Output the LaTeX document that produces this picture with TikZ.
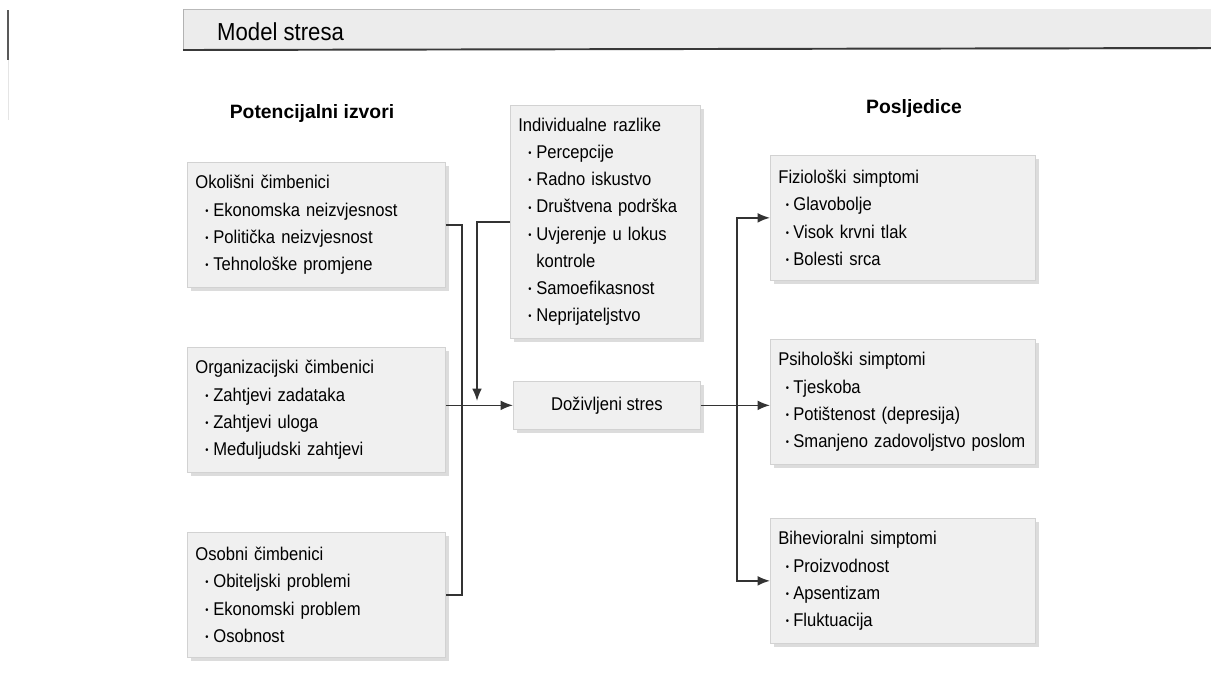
\documentclass[tikz,border=0pt]{standalone}
\usepackage{fontspec}
\setmainfont{Liberation Sans}
\newfontfamily\boxfont[FakeStretch=0.9]{Liberation Sans}
\usetikzlibrary{shadows,arrows.meta}
\newcommand{\itm}{\hspace*{0.1cm}\makebox[0.26cm][c]{\raisebox{0.2ex}{\scalebox{0.55}{\textbullet}}}}
\newcommand{\itr}{\hspace*{0.06cm}\makebox[0.24cm][c]{\raisebox{0.2ex}{\scalebox{0.55}{\textbullet}}}}
\tikzset{
  box/.style={rectangle, anchor=north west, align=left, fill=gray!12, draw=gray!35,
    inner xsep=0.16cm, font=\boxfont\fontsize{10.5}{15.5}\selectfont,
    drop shadow={shadow xshift=2pt, shadow yshift=-2pt, fill=gray!55}},
  conn/.style={line width=0.9pt, black!80},
  tip/.style={-{Latex[length=7pt, width=5.5pt]}},
  heading/.style={font=\fontsize{11}{13}\selectfont\bfseries}
}
\begin{document}
\begin{tikzpicture}[x=0.02cm, y=-0.02cm]
    \useasboundingbox (0,0) rectangle (1211,691);
    % header band
    \draw[line width=1.2pt, gray!70!black] (8,10) -- (8,60);
    \draw[gray!20] (8,60) -- (8,120);
    \fill[gray!15] (183,9) rectangle (1211,50);
    \draw[gray!55] (183,9) -- (640,9);
    \draw[gray!60] (183,9) -- (183,50);
    \draw[line width=1.1pt, gray!45!black] (183,50) -- (1211,48);
    \node[anchor=west, font=\boxfont\fontsize{14}{16}\selectfont] (title) at (211,32) {Model stresa};
    % column headings
    \node[heading] (izvori) at (312,113) {Potencijalni izvori};
    \node[heading] (posljedice) at (914,108) {Posljedice};
    % sources
    \node[box, text width=4.84cm, minimum height=2.5cm] (okol) at (187,162)
        {Okolišni čimbenici\\ \itm Ekonomska neizvjesnost\\ \itm Politička neizvjesnost\\ \itm Tehnološke promjene};
    \node[box, text width=4.84cm, minimum height=2.5cm] (org) at (187,347)
        {Organizacijski čimbenici\\ \itm Zahtjevi zadataka\\ \itm Zahtjevi uloga\\ \itm Međuljudski zahtjevi};
    \node[box, text width=4.84cm, minimum height=2.5cm] (osob) at (187,532)
        {Osobni čimbenici\\ \itm Obiteljski problemi\\ \itm Ekonomski problem\\ \itm Osobnost};
    % individual differences and stress
    \node[box, text width=3.48cm, minimum height=4.66cm] (indiv) at (510,105)
        {Individualne razlike\\ \itm Percepcije\\ \itm Radno iskustvo\\ \itm Društvena podrška\\
         \itm Uvjerenje u lokus\\ \hspace*{0.36cm}kontrole\\ \itm Samoefikasnost\\ \itm Neprijateljstvo};
    \node[box, align=center, minimum width=3.74cm, minimum height=0.96cm] (stres) at (513,381)
        {Doživljeni stres};
    % consequences
    \node[box, text width=4.98cm, minimum height=2.5cm] (fizio) at (770,155)
        {Fiziološki simptomi\\ \itr Glavobolje\\ \itr Visok krvni tlak\\ \itr Bolesti srca};
    \node[box, text width=4.98cm, minimum height=2.5cm] (psih) at (770,339)
        {Psihološki simptomi\\ \itr Tjeskoba\\ \itr Potištenost (depresija)\\ \itr Smanjeno zadovoljstvo poslom};
    \node[box, text width=4.98cm, minimum height=2.5cm] (bihev) at (770,518)
        {Bihevioralni simptomi\\ \itr Proizvodnost\\ \itr Apsentizam\\ \itr Fluktuacija};
    % connectors
    \coordinate (lbus) at (462,0);
    \coordinate (rbus) at (737,0);
    \coordinate (indend) at (477,401);
    \draw[conn] (okol.east) -- (okol.east -| lbus) -- (osob.east -| lbus) -- (osob.east);
    \draw[conn, tip] (org.east |- stres.west) -- (stres.west);
    \draw[conn, tip] (indiv.west) -| (indend);
    \draw[conn, tip] (stres.east) -- (stres.east -| psih.west);
    \draw[conn, {Latex[length=7pt, width=5.5pt]}-{Latex[length=7pt, width=5.5pt]}]
        (fizio.west) -- (fizio.west -| rbus) -- (bihev.west -| rbus) -- (bihev.west);
\end{tikzpicture}
\end{document}
